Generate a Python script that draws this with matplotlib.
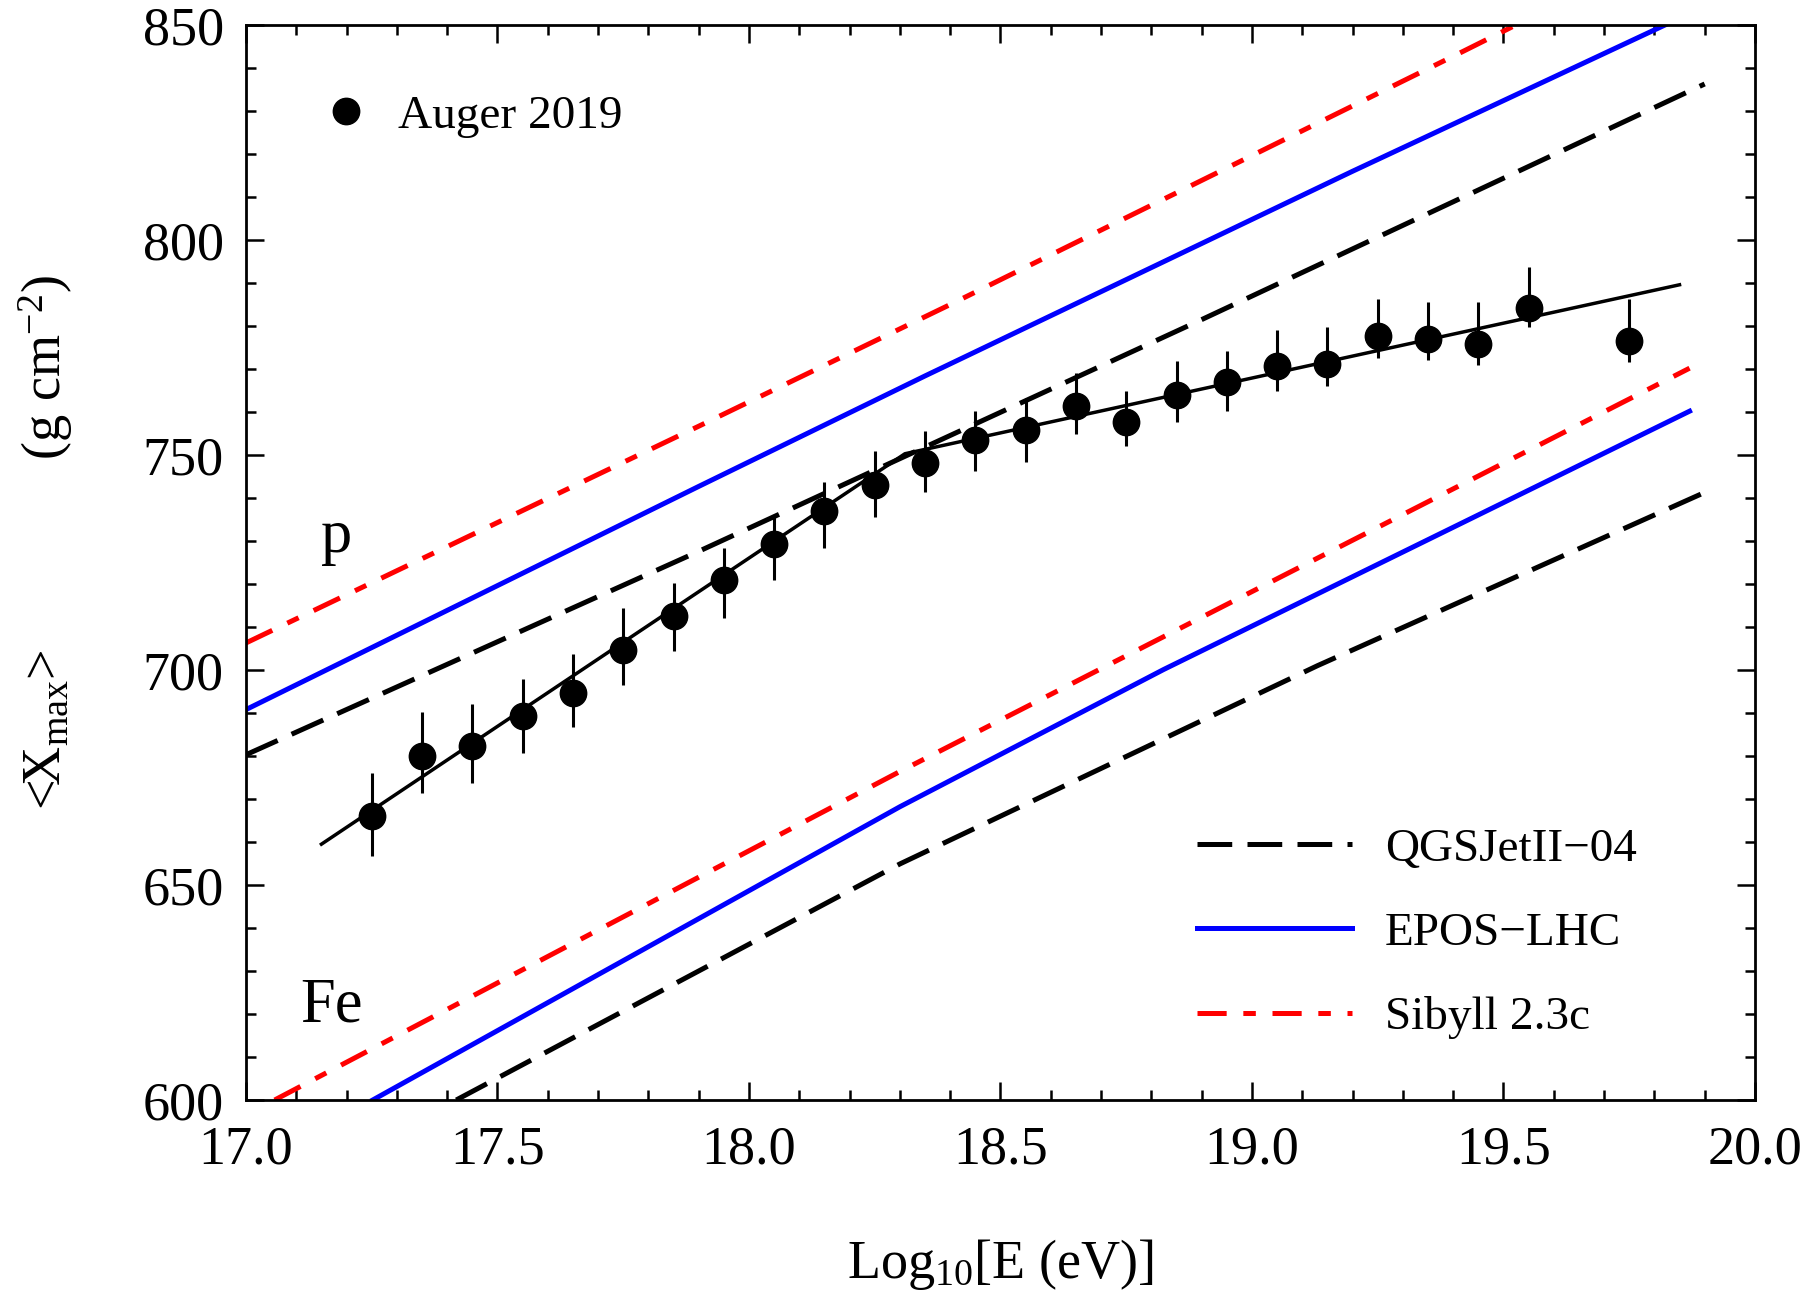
import matplotlib
matplotlib.use("Agg")
import matplotlib.pyplot as plt
from matplotlib.lines import Line2D

plt.rcParams['font.family'] = ['Liberation Serif', 'DejaVu Serif']
plt.rcParams['mathtext.fontset'] = 'custom'
plt.rcParams['mathtext.rm'] = 'Liberation Serif'
plt.rcParams['mathtext.it'] = 'Liberation Serif:italic'
plt.rcParams['lines.scale_dashes'] = False

# Auger 2019 <Xmax> data
logE = [17.25, 17.35, 17.45, 17.55, 17.65, 17.75, 17.85, 17.95, 18.05, 18.15,
        18.25, 18.35, 18.45, 18.55, 18.65, 18.75, 18.85, 18.95, 19.05, 19.15,
        19.25, 19.35, 19.45, 19.55, 19.75]
xmax = [666.0, 680.1, 682.3, 689.2, 694.7, 704.6, 712.5, 721.0, 729.3, 737.1,
        743.0, 748.2, 753.6, 755.9, 761.3, 757.6, 764.0, 766.9, 770.6, 771.2,
        777.8, 777.1, 775.9, 784.2, 776.5]
err_up = [10.1, 10.1, 9.7, 8.7, 9.1, 9.8, 7.8, 7.4, 6.8, 6.6,
          7.9, 7.3, 6.7, 7.4, 7.8, 7.4, 7.9, 7.4, 8.5, 8.5,
          8.4, 8.5, 9.7, 9.5, 9.7]
err_lo = [9.3, 8.7, 8.6, 8.5, 7.9, 8.0, 8.1, 9.0, 8.3, 8.7,
          7.4, 6.9, 7.4, 7.5, 6.5, 5.6, 6.2, 6.7, 5.6, 5.1,
          5.2, 5.1, 5.0, 4.5, 4.9]

# broken-line fit
fit_x = [17.15, 18.31, 19.85]
fit_y = [659.5, 750.3, 789.6]

# hadronic model predictions, proton
qgs_p_x = [17.0, 17.9, 18.9, 19.9]
qgs_p_y = [680.3, 727.6, 781.5, 836.3]
epos_p_x = [17.0, 17.9, 18.35, 19.2, 19.85]
epos_p_y = [690.8, 742.7, 768.4, 816.0, 851.6]
sib_p_x = [17.0, 17.9, 18.4, 19.42, 19.55]
sib_p_y = [706.3, 756.7, 785.0, 843.9, 851.5]

# hadronic model predictions, iron
qgs_fe_x = [17.418, 18.3, 19.13, 19.9]
qgs_fe_y = [600.0, 654.9, 701.0, 741.3]
epos_fe_x = [17.252, 18.3, 18.824, 19.87]
epos_fe_y = [600.0, 668.2, 700.1, 760.2]
sib_fe_x = [17.057, 18.3, 18.8, 19.87]
sib_fe_y = [600.0, 676.4, 706.3, 770.2]

DASH = (0, (25, 11))
DASHDOT = (0, (21, 12, 9, 12))
LW = 3.6

fig = plt.figure(figsize=(18.1, 12.92), dpi=100)
ax = fig.add_axes([0.1359, 0.1486, 0.8337, 0.832])

ax.plot(sib_p_x, sib_p_y, color='red', lw=LW, linestyle=DASHDOT)
ax.plot(epos_p_x, epos_p_y, color='blue', lw=LW)
ax.plot(qgs_p_x, qgs_p_y, color='black', lw=LW, linestyle=DASH)
ax.plot(sib_fe_x, sib_fe_y, color='red', lw=LW, linestyle=DASHDOT)
ax.plot(epos_fe_x, epos_fe_y, color='blue', lw=LW)
ax.plot(qgs_fe_x, qgs_fe_y, color='black', lw=LW, linestyle=DASH)

ax.plot(fit_x, fit_y, color='black', lw=2.5)
ax.errorbar(logE, xmax, yerr=[err_lo, err_up], fmt='o', color='black',
            markersize=19, elinewidth=2.2, capsize=0)

ax.text(17.18, 727.5, "p", fontsize=45, ha='center', va='baseline')
ax.text(17.17, 618.3, "Fe", fontsize=45, ha='center', va='baseline')

ax.set_xlim(17.0, 20.0)
ax.set_ylim(600, 850)
ax.set_xticks([17.0, 17.5, 18.0, 18.5, 19.0, 19.5, 20.0])
ax.set_xticklabels(["17.0", "17.5", "18.0", "18.5", "19.0", "19.5", "20.0"])
ax.set_yticks([600, 650, 700, 750, 800, 850])
ax.set_xticks([17 + 0.1 * i for i in range(31)], minor=True)
ax.set_yticks(list(range(600, 851, 10)), minor=True)
ax.tick_params(which='both', direction='in', top=True, right=True,
               width=1.8, labelsize=39)
ax.tick_params(which='major', length=13)
ax.tick_params(which='minor', length=7.5)
ax.tick_params(axis='x', pad=18)
ax.tick_params(axis='y', pad=16)
for s in ax.spines.values():
    s.set_linewidth(2.0)

ax.set_xlabel(r"Log$_{10}$[E (eV)]", fontsize=39)
ax.xaxis.set_label_coords(0.5, -0.127)
ax.set_ylabel(r"<X$_{\mathrm{max}}$>" + " " * 14 + r"(g cm$^{-2}$)",
              fontsize=39)
ax.yaxis.set_label_coords(-0.113, 0.519)

data_handle = Line2D([], [], marker='o', color='black', linestyle='none',
                     markersize=19)
leg1 = ax.legend([data_handle], ["Auger 2019"], loc='center left',
                 bbox_to_anchor=(0.0517, 0.915), frameon=False, fontsize=34,
                 handlelength=0.95, handletextpad=0.62, borderpad=0,
                 borderaxespad=0)
ax.add_artist(leg1)

model_handles = [
    Line2D([], [], color='black', lw=LW, linestyle=DASH),
    Line2D([], [], color='blue', lw=LW),
    Line2D([], [], color='red', lw=LW, linestyle=DASHDOT),
]
ax.legend(model_handles, ["QGSJetII\u221204", "EPOS\u2212LHC", "Sibyll 2.3c"],
          loc='center left', bbox_to_anchor=(0.630, 0.155), frameon=False,
          fontsize=34, handlelength=3.3, handletextpad=0.69,
          labelspacing=0.87, borderpad=0, borderaxespad=0)

fig.savefig("out.png", dpi=100)
